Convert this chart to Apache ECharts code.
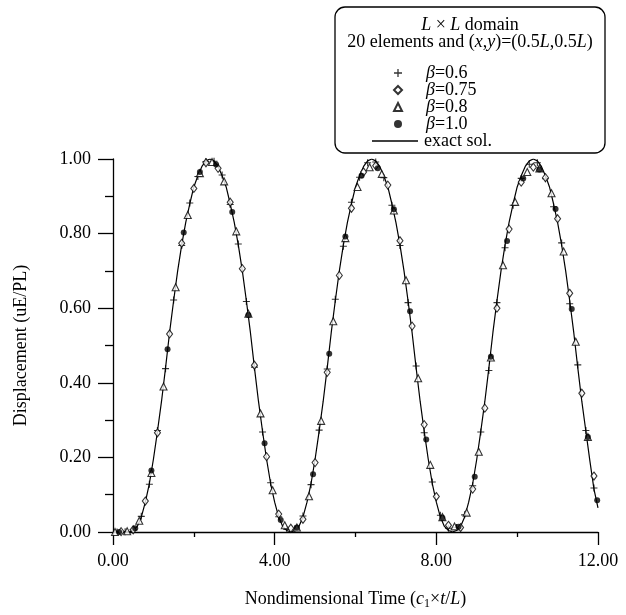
<!DOCTYPE html>
<html>
<head>
<meta charset="utf-8">
<script src="https://cdn.jsdelivr.net/npm/echarts@6/dist/echarts.min.js"></script>
<style>
  html, body { margin: 0; padding: 0; background: #fff; }
  #main { width: 626px; height: 615px; }
</style>
</head>
<body>
<div id="main"></div>
<script>
// exact solution
var exactSol = [
  [0,0],[0.1,0],[0.2,0],[0.3,0],[0.4,0],[0.5,0.004],[0.6,0.015],[0.7,0.04],[0.8,0.08],[0.9,0.13],
  [1.0,0.195],[1.1,0.27],[1.2,0.35],[1.3,0.44],[1.4,0.535],[1.5,0.62],[1.6,0.70],[1.7,0.77],[1.8,0.83],[1.9,0.88],
  [2.0,0.925],[2.1,0.955],[2.2,0.98],[2.3,0.995],[2.4,1.0],[2.5,0.995],[2.6,0.98],[2.7,0.955],[2.8,0.925],[2.9,0.88],
  [3.0,0.83],[3.1,0.77],[3.2,0.70],[3.3,0.62],[3.4,0.535],[3.5,0.44],[3.6,0.35],[3.7,0.27],[3.8,0.195],[3.9,0.13],
  [4.0,0.08],[4.1,0.04],[4.2,0.015],[4.3,0.004],[4.4,0],[4.5,0.004],[4.6,0.015],[4.7,0.04],[4.8,0.08],[4.9,0.13],
  [5.0,0.195],[5.1,0.27],[5.2,0.35],[5.3,0.44],[5.4,0.535],[5.5,0.62],[5.6,0.70],[5.7,0.77],[5.8,0.83],[5.9,0.88],
  [6.0,0.925],[6.1,0.955],[6.2,0.98],[6.3,0.995],[6.4,1.0],[6.5,0.995],[6.6,0.98],[6.7,0.955],[6.8,0.925],[6.9,0.88],
  [7.0,0.83],[7.1,0.77],[7.2,0.70],[7.3,0.62],[7.4,0.535],[7.5,0.44],[7.6,0.35],[7.7,0.27],[7.8,0.195],[7.9,0.13],
  [8.0,0.08],[8.1,0.04],[8.2,0.015],[8.3,0.004],[8.4,0],[8.5,0.004],[8.6,0.015],[8.7,0.04],[8.8,0.08],[8.9,0.13],
  [9.0,0.195],[9.1,0.27],[9.2,0.35],[9.3,0.44],[9.4,0.535],[9.5,0.62],[9.6,0.70],[9.7,0.77],[9.8,0.83],[9.9,0.88],
  [10.0,0.925],[10.1,0.955],[10.2,0.98],[10.3,0.995],[10.4,1.0],[10.5,0.995],[10.6,0.98],[10.7,0.955],[10.8,0.925],[10.9,0.88],
  [11.0,0.83],[11.1,0.77],[11.2,0.70],[11.3,0.62],[11.4,0.535],[11.5,0.44],[11.6,0.35],[11.7,0.27],[11.8,0.19],[11.9,0.115],
  [12.0,0.065]
];

// beta = 0.6  (+)
var beta06 = [
  [0.1,0.000],[0.3,0.001],[0.5,0.006],[0.7,0.042],[0.9,0.128],[1.1,0.272],[1.3,0.438],[1.5,0.622],[1.7,0.768],[1.9,0.882],
  [2.1,0.953],[2.3,0.993],[2.5,0.994],[2.7,0.957],[2.9,0.878],[3.1,0.772],[3.3,0.618],[3.5,0.442],[3.7,0.268],[3.9,0.132],
  [4.1,0.041],[4.3,0.007],[4.5,0.008],[4.7,0.043],[4.9,0.127],[5.1,0.273],[5.3,0.437],[5.5,0.624],[5.7,0.766],[5.9,0.884],
  [6.1,0.951],[6.3,0.990],[6.5,0.992],[6.7,0.950],[6.9,0.876],[7.1,0.768],[7.3,0.615],[7.5,0.445],[7.7,0.266],[7.9,0.134],
  [8.1,0.045],[8.3,0.010],[8.5,0.012],[8.7,0.046],[8.9,0.124],[9.1,0.268],[9.3,0.433],[9.5,0.615],[9.7,0.762],[9.9,0.876],
  [10.1,0.948],[10.3,0.986],[10.5,0.990],[10.7,0.947],[10.9,0.872],[11.1,0.775],[11.3,0.612],[11.5,0.448],[11.7,0.272],[11.9,0.118]
];

// beta = 0.75  (open diamond)
var beta075 = [
  [0.2,0.001],[0.5,0.006],[0.8,0.083],[1.1,0.266],[1.4,0.531],[1.7,0.774],[2.0,0.921],[2.3,0.990],[2.6,0.975],[2.9,0.884],
  [3.2,0.706],[3.5,0.447],[3.8,0.202],[4.1,0.048],[4.4,0.010],[4.7,0.034],[5.0,0.186],[5.3,0.428],[5.6,0.688],[5.9,0.868],
  [6.2,0.965],[6.5,0.982],[6.8,0.930],[7.1,0.781],[7.4,0.552],[7.7,0.288],[8.0,0.095],[8.3,0.018],[8.6,0.012],[8.9,0.115],
  [9.2,0.332],[9.5,0.600],[9.8,0.812],[10.1,0.938],[10.4,0.978],[10.7,0.950],[11.0,0.840],[11.3,0.640],[11.6,0.372],[11.9,0.150]
];

// beta = 0.8  (open triangle)
var beta08 = [
  [0.05,0.000],[0.35,0.002],[0.65,0.030],[0.95,0.158],[1.25,0.390],[1.55,0.656],[1.85,0.850],[2.15,0.962],[2.45,0.992],[2.75,0.940],
  [3.05,0.806],[3.35,0.585],[3.65,0.318],[3.95,0.112],[4.25,0.018],[4.55,0.012],[4.85,0.096],[5.15,0.298],[5.45,0.565],[5.75,0.788],
  [6.05,0.925],[6.35,0.978],[6.65,0.960],[6.95,0.862],[7.25,0.675],[7.55,0.412],[7.85,0.180],[8.15,0.040],[8.45,0.015],[8.75,0.052],
  [9.05,0.215],[9.35,0.468],[9.65,0.715],[9.95,0.885],[10.25,0.965],[10.55,0.975],[10.85,0.908],[11.15,0.752],[11.45,0.510],[11.75,0.255]
];

// beta = 1.0  (filled circle)
var beta10 = [
  [0.15,0.000],[0.55,0.010],[0.95,0.165],[1.35,0.490],[1.75,0.803],[2.15,0.965],[2.55,0.985],[2.95,0.858],[3.35,0.582],[3.75,0.238],
  [4.15,0.032],[4.55,0.012],[4.95,0.155],[5.35,0.478],[5.75,0.792],[6.15,0.955],[6.55,0.975],[6.95,0.865],[7.35,0.592],[7.75,0.248],
  [8.15,0.038],[8.55,0.014],[8.95,0.148],[9.35,0.470],[9.75,0.780],[10.15,0.948],[10.55,0.972],[10.95,0.866],[11.35,0.598],[11.75,0.255],
  [11.98,0.085]
];

var xTicks = [0, 4, 8, 12];
var yTicks = [0, 0.2, 0.4, 0.6, 0.8, 1.0];

var FONT = '"Liberation Serif", "Times New Roman", serif';
var plusPath = 'path://M0,4.2H10V5.8H0Z M4.2,0H5.8V10H4.2Z';

var chart = echarts.init(document.getElementById('main'), null, { renderer: 'canvas' });

function axisCommon() {
  return {
    axisLine: { show: true, lineStyle: { color: '#000', width: 1.3 } },
    axisTick: { show: true, inside: false, lineStyle: { color: '#000', width: 1.3 } },
    minorTick: { show: true, splitNumber: 2, lineStyle: { color: '#000', width: 1.3 } },
    splitLine: { show: false },
    axisLabel: {
      color: '#000', fontSize: 18, fontFamily: FONT,
      formatter: function (v) { return v.toFixed(2); }
    }
  };
}

var xAx = axisCommon();
xAx.type = 'value';
xAx.min = xTicks[0];
xAx.max = xTicks[xTicks.length - 1];
xAx.interval = 4;
xAx.axisTick.length = 13;
xAx.minorTick.length = 5;
xAx.axisLabel.margin = 20;
xAx.name = '{n|Nondimensional Time (}{i|c}{s|1}{n|\u00d7}{i|t}{n|/}{i|L}{n|)}';
xAx.nameLocation = 'middle';
xAx.nameGap = 56;
xAx.nameTextStyle = {
  color: '#000', fontSize: 18, fontFamily: FONT,
  rich: {
    n: { fontSize: 18, fontFamily: FONT, color: '#000' },
    i: { fontSize: 18, fontFamily: FONT, color: '#000', fontStyle: 'italic' },
    s: { fontSize: 12, fontFamily: FONT, color: '#000', padding: [10, 0, 0, 0] }
  }
};

var yAx = axisCommon();
yAx.type = 'value';
yAx.min = yTicks[0];
yAx.max = yTicks[yTicks.length - 1];
yAx.interval = 0.2;
yAx.axisTick.length = 15;
yAx.minorTick.length = 8;
yAx.axisLabel.margin = 22;
yAx.name = 'Displacement (uE/PL)';
yAx.nameLocation = 'middle';
yAx.nameGap = 83;
yAx.nameTextStyle = { color: '#000', fontSize: 18, fontFamily: FONT };

var richBeta = {
  i: { fontSize: 18, fontFamily: FONT, color: '#000', fontStyle: 'italic', lineHeight: 16 },
  n: { fontSize: 18, fontFamily: FONT, color: '#000', lineHeight: 16 }
};

var option = {
  animation: false,
  backgroundColor: '#fff',
  grid: { left: 113, right: 28, top: 159, bottom: 83, containLabel: false },
  xAxis: xAx,
  yAxis: yAx,
  graphic: [
    {
      type: 'rect', z: 0,
      shape: { x: 335, y: 7, width: 270, height: 146, r: 10 },
      style: { fill: '#fff', stroke: '#000', lineWidth: 1.3 }
    },
    {
      type: 'text', z: 1, x: 470, y: 25,
      style: {
        text: '{i|L} \u00d7 {i|L} domain', align: 'center', verticalAlign: 'middle',
        font: '18px ' + FONT, fill: '#000',
        rich: { i: { fontStyle: 'italic', fontSize: 18, fontFamily: FONT, fill: '#000' } }
      }
    },
    {
      type: 'text', z: 1, x: 470, y: 42,
      style: {
        text: '20 elements and ({i|x},{i|y})=(0.5{i|L},0.5{i|L})', align: 'center', verticalAlign: 'middle',
        font: '18px ' + FONT, fill: '#000',
        rich: { i: { fontStyle: 'italic', fontSize: 18, fontFamily: FONT, fill: '#000' } }
      }
    }
  ],
  legend: [
    {
      data: ['\u03b2=0.6', '\u03b2=0.75', '\u03b2=0.8', '\u03b2=1.0'],
      orient: 'vertical', left: 388, top: 59,
      itemWidth: 8, itemHeight: 8, itemGap: -1,
      formatter: function (name) { return '{i|\u03b2}{n|' + name.slice(1) + '}'; },
      textStyle: { fontSize: 18, fontFamily: FONT, color: '#000', lineHeight: 16, padding: [0, 0, 0, 19], rich: richBeta }
    },
    {
      data: [{ name: 'exact sol.', icon: 'rect' }],
      orient: 'vertical', left: 367, top: 127,
      itemWidth: 46, itemHeight: 1.3,
      textStyle: { fontSize: 18, fontFamily: FONT, color: '#000', lineHeight: 16, padding: [0, 0, 0, 1] }
    }
  ],
  series: [
    {
      name: 'exact sol.', type: 'line', data: exactSol,
      showSymbol: false, symbol: 'none', z: 3,
      lineStyle: { color: '#000', width: 1.2 },
      itemStyle: { color: '#000' }
    },
    {
      name: '\u03b2=0.6', type: 'scatter', data: beta06, z: 4,
      symbol: plusPath, symbolSize: 7,
      itemStyle: { color: '#000' }
    },
    {
      name: '\u03b2=0.75', type: 'scatter', data: beta075, z: 4,
      symbol: 'diamond', symbolSize: [6, 8],
      itemStyle: { color: '#fff', borderColor: '#000', borderWidth: 1.1 }
    },
    {
      name: '\u03b2=0.8', type: 'scatter', data: beta08, z: 4,
      symbol: 'triangle', symbolSize: 7,
      itemStyle: { color: '#fff', borderColor: '#000', borderWidth: 1.1 }
    },
    {
      name: '\u03b2=1.0', type: 'scatter', data: beta10, z: 4,
      symbol: 'circle', symbolSize: 6,
      itemStyle: { color: '#000' }
    }
  ]
};

chart.setOption(option);
</script>
</body>
</html>
